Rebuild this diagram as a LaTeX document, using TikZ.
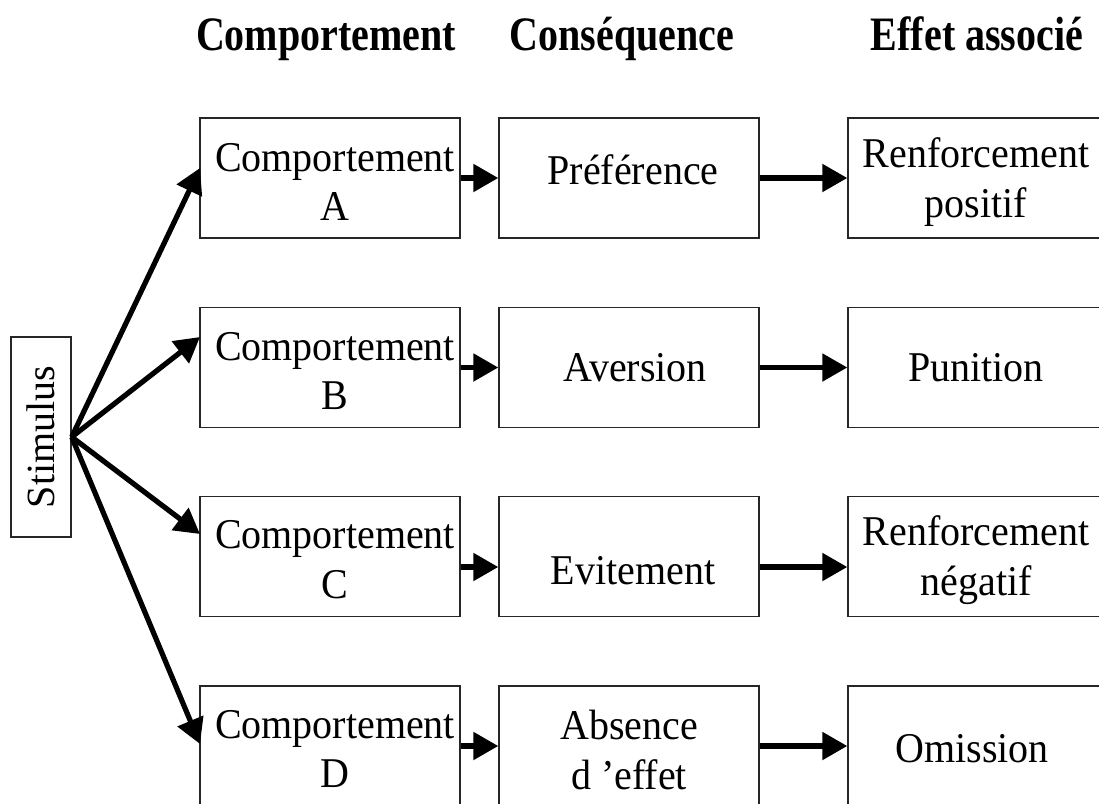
\documentclass[tikz,border=0pt]{standalone}
\usepackage{fontspec}
\setmainfont{Liberation Serif}
\usetikzlibrary{arrows.meta}
\tikzset{
  cbox/.style={draw=black!85, line width=1.4pt, minimum width=260pt, minimum height=120pt,
    inner sep=0pt, align=center, font=\fontsize{40}{47}\selectfont},
  lbl/.style={inner sep=0pt, align=center, font=\fontsize{40}{47}\selectfont, yscale=1.06},
  head/.style={inner sep=0pt, font=\fontsize{40}{47}\selectfont\bfseries, yscale=1.2},
  flow/.style={line width=5.2pt, -{Triangle[length=25pt,width=27pt]}},
}
\begin{document}
\begin{tikzpicture}[x=1pt,y=-1pt]
\useasboundingbox[fill=white] (0,0) rectangle (1099,803);
% headers
\node[head, anchor=base] (h1) at (326,50) {Comportement};
\node[head, anchor=base] (h2) at (622,50) {Conséquence};
\node[head, anchor=base] (h3) at (977,50) {Effet associé};
% stimulus
\node[draw=black!85, line width=1.4pt, rotate=90, minimum width=200pt, minimum height=60pt,
  inner sep=0pt, font=\fontsize{40}{47}\selectfont] (stim) at (41,437) {Stimulus};
% boxes
\foreach \r/\y in {A/178,B/367.5,C/556.5,D/746}{
  \node[cbox] (b\r) at (330,\y) {};
  \node[cbox] (c\r) at (629,\y) {};
  \node[cbox] (e\r) at (978,\y) {};
}
% texts
\node[lbl] (tbA) at (335,182) {Comportement\\A};
\node[lbl] (tbB) at (335,371) {Comportement\\B};
\node[lbl] (tbC) at (335,560) {Comportement\\C};
\node[lbl] (tbD) at (335,749) {Comportement\\D};
\node[lbl, anchor=base] (tcA) at (633,184) {Préférence};
\node[lbl, anchor=base] (tcB) at (635,381) {Aversion};
\node[lbl, anchor=base] (tcC) at (633,584) {Evitement};
\node[lbl] (tcD) at (629,750) {Absence\\d 'effet};
\node[lbl] (teA) at (976,182) {Renforcement\\positif};
\node[lbl, anchor=base] (teB) at (976,381) {Punition};
\node[lbl] (teC) at (976,560) {Renforcement\\négatif};
\node[lbl, anchor=base] (teD) at (972,762) {Omission};
% fan targets
\coordinate (fA) at (200,168);
\coordinate (fB) at (200,337);
\coordinate (fC) at (200,534);
\coordinate (fD) at (200,744);
\foreach \r in {A,B,C,D}{
  \draw[flow] (stim.south) -- (f\r);
}
% horizontal arrows
\foreach \r/\d in {A/0,B/0,C/-10.5,D/0}{
  \draw[flow] ([yshift=\d pt]b\r.east) -- ([yshift=\d pt]c\r.west);
  \draw[flow] ([yshift=\d pt]c\r.east) -- ([yshift=\d pt]e\r.west);
}
\end{tikzpicture}
\end{document}
